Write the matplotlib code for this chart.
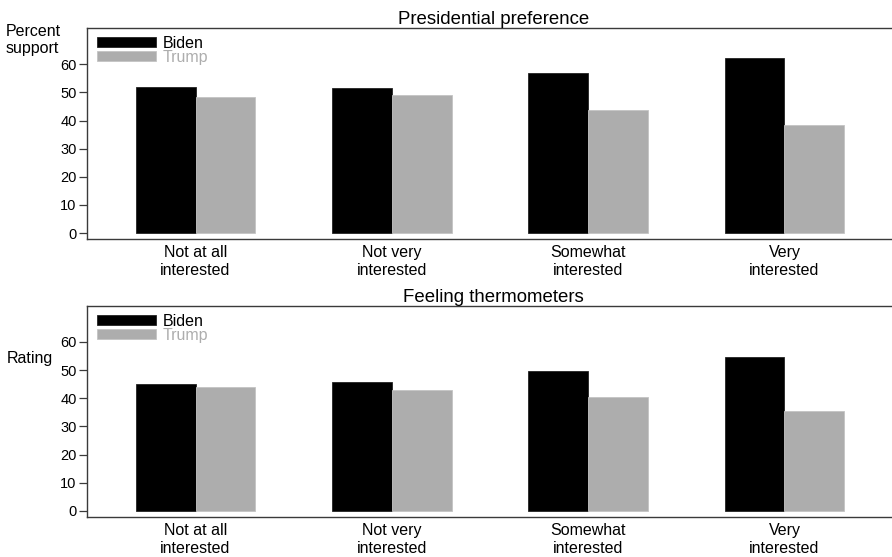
import matplotlib.pyplot as plt
import numpy as np

plt.rcParams['font.family'] = ['Liberation Sans', 'DejaVu Sans']

categories = ['Not at all\ninterested', 'Not very\ninterested',
              'Somewhat\ninterested', 'Very\ninterested']
pref_biden = [52.0, 51.5, 56.8, 62.1]
pref_trump = [48.5, 49.2, 43.7, 38.4]
therm_biden = [44.9, 45.9, 49.7, 54.7]
therm_trump = [44.0, 43.0, 40.5, 35.5]
yticks = [0, 10, 20, 30, 40, 50, 60]

black = '#000000'
gray = '#adadad'
spine_col = '#3a3a3a'

fig = plt.figure(figsize=(8.92, 5.57), dpi=100)
ax1 = fig.add_axes([0.0975, 0.5709, 0.9036, 0.3788])
ax2 = fig.add_axes([0.0975, 0.0724, 0.9036, 0.3788])

x = np.arange(len(categories))
w = 0.305


def panel(ax, biden, trump, title):
    ax.bar(x - w / 2, biden, w, color=black, edgecolor='#222222', linewidth=0.6, label='Biden')
    ax.bar(x + w / 2, trump, w, color=gray, edgecolor='#c4c4c4', linewidth=0.6, label='Trump')
    ax.set_xlim(-0.553, 3.553)
    ax.set_ylim(-2.1, 72.9)
    ax.set_yticks(yticks)
    ax.set_xticks(x)
    ax.set_xticklabels(categories, fontsize=11.5, linespacing=1.22)
    ax.tick_params(axis='x', length=0, pad=4.5)
    ax.tick_params(axis='y', length=6, width=0.9, color=spine_col, labelsize=10.5, pad=1.5)
    for s in ['top', 'left', 'bottom']:
        ax.spines[s].set_color(spine_col)
        ax.spines[s].set_linewidth(1.0)
    ax.spines['right'].set_visible(False)
    ax.set_title(title, fontsize=13.4, pad=0.8, x=0.504)
    ax.legend(loc='upper left', bbox_to_anchor=(0.0124, 0.962), frameon=False,
              handlelength=3.7, handleheight=0.58, handletextpad=0.44,
              labelspacing=-0.07, fontsize=11.5, labelcolor=[black, gray],
              borderaxespad=0, borderpad=0)


panel(ax1, pref_biden, pref_trump, 'Presidential preference')
panel(ax2, therm_biden, therm_trump, 'Feeling thermometers')

fig.text(6 / 892, 1 - 40 / 557, 'Percent\nsupport', fontsize=11.5,
         ha='left', va='center', linespacing=1.15)
fig.text(53 / 892, 1 - 359 / 557, 'Rating', fontsize=11.5,
         ha='right', va='center')

fig.savefig('out.png', dpi=100)
